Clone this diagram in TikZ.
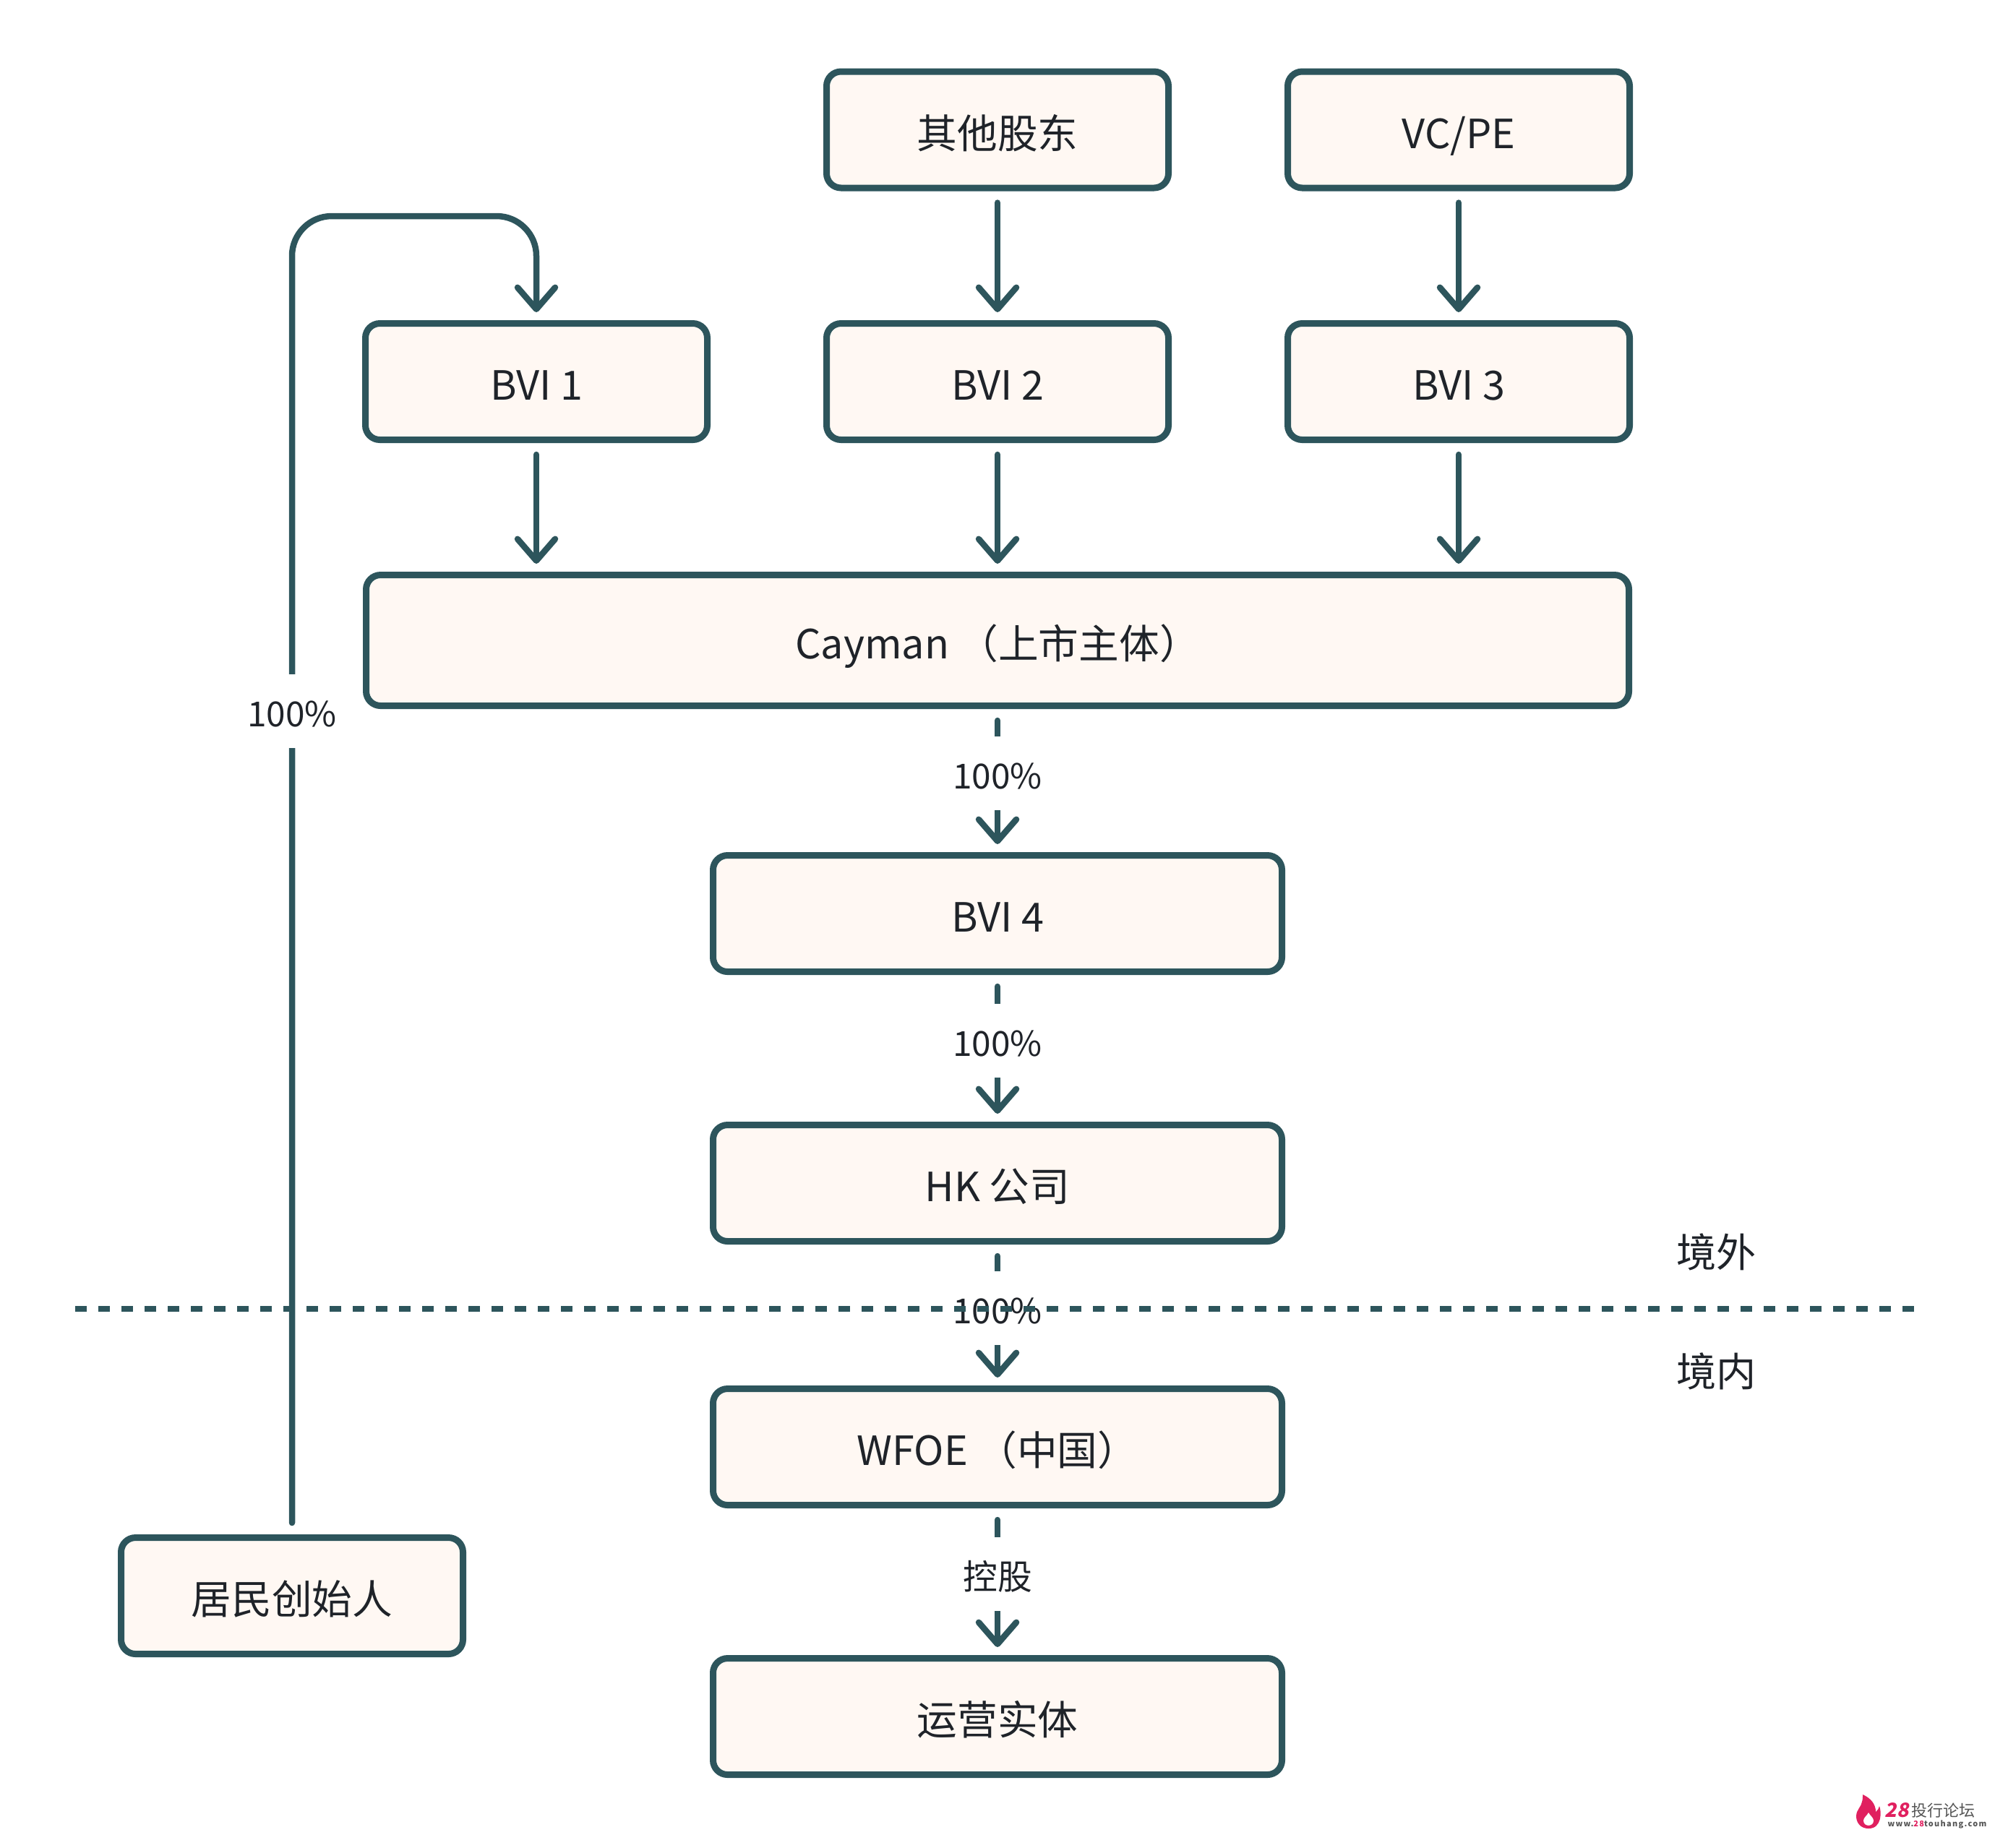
\documentclass[tikz,border=0pt]{standalone}
\usepackage{fontspec}
\setmainfont{Noto Sans CJK SC}
\usepackage{xcolor}
\usepackage{tikz}
\usetikzlibrary{arrows.meta}
\definecolor{teal}{HTML}{2D555C}
\definecolor{cream}{HTML}{FFF8F3}
\definecolor{ink}{HTML}{1F2329}
\definecolor{flame}{HTML}{E0205F}
\definecolor{logogray}{HTML}{555555}

\begin{document}
\begin{tikzpicture}[line width=0.9mm, text=ink,
    ent/.style={draw=teal, fill=cream, rounded corners=2mm, minimum width=4.73cm, minimum height=1.61cm,
      inner sep=0pt, text height=5.1mm, text depth=0pt, font=\fontsize{15.85}{18}\selectfont},
    link/.style={draw=teal, line width=0.85mm, line cap=round, shorten <=1.6mm, shorten >=1.1mm,
      -{Straight Barb[length=3mm, width=5.2mm, round]}},
    pct/.style={fill=white, inner sep=0pt, minimum width=1.3cm, minimum height=1.02cm, text height=4.3mm, text depth=0pt,
      font=\fontsize{13.6}{16}\selectfont},
    side/.style={font=\fontsize{15.7}{18}\selectfont}]
  \useasboundingbox (0, 0) rectangle (27.6, -25.56);
  % holders
  \node[ent] (other) at (13.8, -1.795) {其他股东};
  \node[ent] (vcpe) at (20.18, -1.795) {VC/PE};
  \node[ent] (bvia) at (7.42, -5.28) {BVI 1};
  \node[ent] (bvib) at (13.8, -5.28) {BVI 2};
  \node[ent] (bvic) at (20.18, -5.28) {BVI 3};
  \node[ent, minimum width=17.47cm, minimum height=1.81cm] (cayman) at (13.8, -8.86) {Cayman （上市主体）};
  % chain
  \node[ent, minimum width=7.87cm] (bvid) at (13.8, -12.64) {BVI 4};
  \node[ent, minimum width=7.87cm] (hk) at (13.8, -16.37) {HK 公司};
  \node[ent, minimum width=7.87cm] (wfoe) at (13.8, -20.02) {WFOE （中国）};
  \node[ent, minimum width=7.87cm] (opco) at (13.8, -23.75) {运营实体};
  \node[ent] (founder) at (4.04, -22.08) {居民创始人};

  \draw[link] (other) -- (bvib);
  \draw[link] (vcpe) -- (bvic);
  \draw[link] (bvia) -- (bvia |- cayman.north);
  \draw[link] (bvib) -- (bvib |- cayman.north);
  \draw[link] (bvic) -- (bvic |- cayman.north);
  \draw[link] (cayman) -- node[pct, pos=0.45] (pcta) {100\%} (bvid);
  \draw[link] (bvid) -- node[pct, pos=0.45] (pctb) {100\%} (hk);
  \draw[link] (hk) -- node[pct, pos=0.45] (pctc) {100\%} (wfoe);
  \draw[link] (wfoe) -- node[pct, pos=0.45] (pctd) {控股} (opco);

  % founder loop
  \coordinate (loop) at (7.42, -2.99);
  \draw[link, rounded corners=5.5mm] (founder.north) -- (founder.north |- loop) -- (loop) -- (bvia.north);
  \node[pct] (pcte) at (4.04, -9.84) {100\%};

  % border line
  \coordinate (lineL) at (1.04, -18.11);
  \coordinate (lineR) at (26.5, -18.11);
  \draw[teal, line width=0.8mm, dash pattern=on 1.6mm off 1.6mm] (lineL) -- (lineR);
  \node[side] (abroad) at (23.745, -17.32) {境外};
  \node[side] (home) at (23.745, -18.975) {境内};

  % logo
  \fill[flame] (25.85, -25.30) .. controls (25.74, -25.30) and (25.68, -25.22) .. (25.68, -25.13)
    .. controls (25.68, -25.04) and (25.75, -25.00) .. (25.76, -24.93)
    .. controls (25.77, -24.90) and (25.77, -24.86) .. (25.77, -24.83)
    .. controls (25.88, -24.88) and (25.95, -24.96) .. (25.95, -25.07)
    .. controls (25.98, -25.05) and (25.99, -25.02) .. (26.00, -24.99)
    .. controls (26.03, -25.06) and (26.04, -25.30) .. (25.85, -25.30) -- cycle;
  \fill[white] (25.85, -25.08) .. controls (25.87, -25.12) and (25.92, -25.15) .. (25.92, -25.19)
    .. controls (25.92, -25.28) and (25.78, -25.28) .. (25.78, -25.19)
    .. controls (25.78, -25.15) and (25.83, -25.12) .. (25.85, -25.08) -- cycle;
  \node[anchor=west, inner sep=0pt, text=flame, font=\fontsize{7.7}{9}\selectfont\bfseries\addfontfeature{FakeSlant=0.2}] (logonum) at (26.03, -25.05) {28};
  \node[anchor=west, inner sep=0pt, text=logogray, font=\fontsize{6.25}{7}\selectfont] (logoname) at (26.40, -25.05) {投行论坛};
  \node[anchor=west, inner sep=0pt, text=logogray, font=\fontsize{3.1}{4}\selectfont\bfseries\addfontfeature{LetterSpace=12}] (logourl) at (26.07, -25.245) {www.\textcolor{flame}{28}touhang.com};
\end{tikzpicture}
\end{document}
